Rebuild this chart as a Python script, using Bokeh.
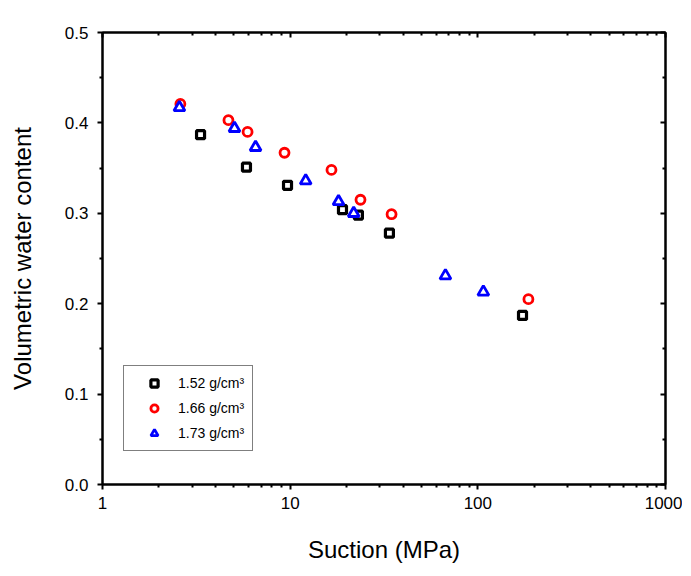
from bokeh.plotting import figure
from bokeh.models import LinearAxis, LogAxis, Range1d, FixedTicker, Legend, LegendItem, PrintfTickFormatter
from bokeh.embed import file_html
from bokeh.resources import INLINE

# Data
x152 = [3.33, 5.85, 9.68, 19.0, 23.1, 33.8, 173]
y152 = [0.387, 0.351, 0.331, 0.304, 0.298, 0.278, 0.187]
x166 = [2.60, 4.69, 5.93, 9.33, 16.6, 23.7, 34.7, 186]
y166 = [0.421, 0.403, 0.390, 0.367, 0.348, 0.315, 0.299, 0.205]
x173 = [2.57, 5.05, 6.54, 12.1, 18.1, 21.8, 67.2, 107]
y173 = [0.417, 0.394, 0.373, 0.336, 0.313, 0.300, 0.231, 0.213]
labels = ["1.52 g/cm³", "1.66 g/cm³", "1.73 g/cm³"]
xticks = [1, 10, 100, 1000]
yticks = [0.0, 0.1, 0.2, 0.3, 0.4, 0.5]
xminor = [a * b for b in [1, 10, 100] for a in range(2, 10)]
yminor = [0.05, 0.15, 0.25, 0.35, 0.45]

FONT = "Liberation Sans"

p = figure(x_axis_type="log", x_range=Range1d(1, 1000), y_range=Range1d(0, 0.5),
           frame_width=563, frame_height=452, output_backend="svg", toolbar_location=None,
           min_border_left=102, min_border_top=32, min_border_right=17, min_border_bottom=70)
p.outline_line_color = "black"
p.outline_line_width = 2
p.xgrid.visible = False
p.ygrid.visible = False

r1 = p.scatter(x152, y152, marker="square", size=8, fill_color="white", line_color="black", line_width=3.2)
r2 = p.scatter(x166, y166, marker="circle", size=9, fill_color="white", line_color="#ff0000", line_width=2.8)
r3 = p.scatter(x173, y173, marker="triangle", size=11, fill_color="white", line_color="#0000ff", line_width=2.8)

def style(ax, inward=False):
    ax.axis_line_width = 2
    ax.axis_line_color = "black"
    ax.major_tick_line_width = 2
    ax.minor_tick_line_width = 2
    if inward:
        ax.major_tick_in = 5; ax.major_tick_out = 0
        ax.minor_tick_in = 3; ax.minor_tick_out = 0
    else:
        ax.major_tick_in = 0; ax.major_tick_out = 5
        ax.minor_tick_in = 0; ax.minor_tick_out = 3
    ax.major_label_text_font = FONT
    ax.major_label_text_font_size = "17px"
    ax.major_label_text_color = "black"

xa = p.xaxis[0]
xa.ticker = FixedTicker(ticks=xticks, minor_ticks=xminor)
xa.formatter = PrintfTickFormatter(format="%d")
xa.axis_label = "Suction (MPa)"
xa.axis_label_text_font = FONT
xa.axis_label_text_font_size = "24px"
xa.axis_label_text_font_style = "normal"
xa.axis_label_text_color = "black"
xa.axis_label_standoff = 24
xa.major_label_standoff = 7
style(xa)

ya = p.yaxis[0]
ya.ticker = FixedTicker(ticks=yticks, minor_ticks=yminor)
ya.formatter = PrintfTickFormatter(format="%.1f")
ya.axis_label = "Volumetric water content"
ya.axis_label_text_font = FONT
ya.axis_label_text_font_size = "24px"
ya.axis_label_text_font_style = "normal"
ya.axis_label_text_color = "black"
ya.axis_label_standoff = 26
ya.major_label_standoff = 9
style(ya)

ta = LogAxis(ticker=FixedTicker(ticks=xticks, minor_ticks=xminor))
style(ta, inward=True)
ta.major_label_text_color = None
ta.major_label_text_font_size = "2px"
ta.major_label_standoff = 0
p.add_layout(ta, "above")
ra = LinearAxis(ticker=FixedTicker(ticks=yticks, minor_ticks=yminor))
style(ra, inward=True)
ra.major_label_text_color = None
ra.major_label_text_font_size = "2px"
ra.major_label_standoff = 0
p.add_layout(ra, "right")

legend = Legend(items=[LegendItem(label=labels[0], renderers=[r1]),
                       LegendItem(label=labels[1], renderers=[r2]),
                       LegendItem(label=labels[2], renderers=[r3])],
                location=(21, 33))
legend.border_line_color = "black"
legend.border_line_width = 1
legend.background_fill_alpha = 1
legend.label_text_font = FONT
legend.label_text_font_size = "14px"
legend.label_text_color = "black"
legend.padding = 8
legend.spacing = 7
legend.label_height = 18
legend.glyph_height = 18
legend.glyph_width = 44
legend.label_standoff = 2
legend.margin = 0
p.add_layout(legend, "center")

open("out.html", "w").write(file_html(p, INLINE))
